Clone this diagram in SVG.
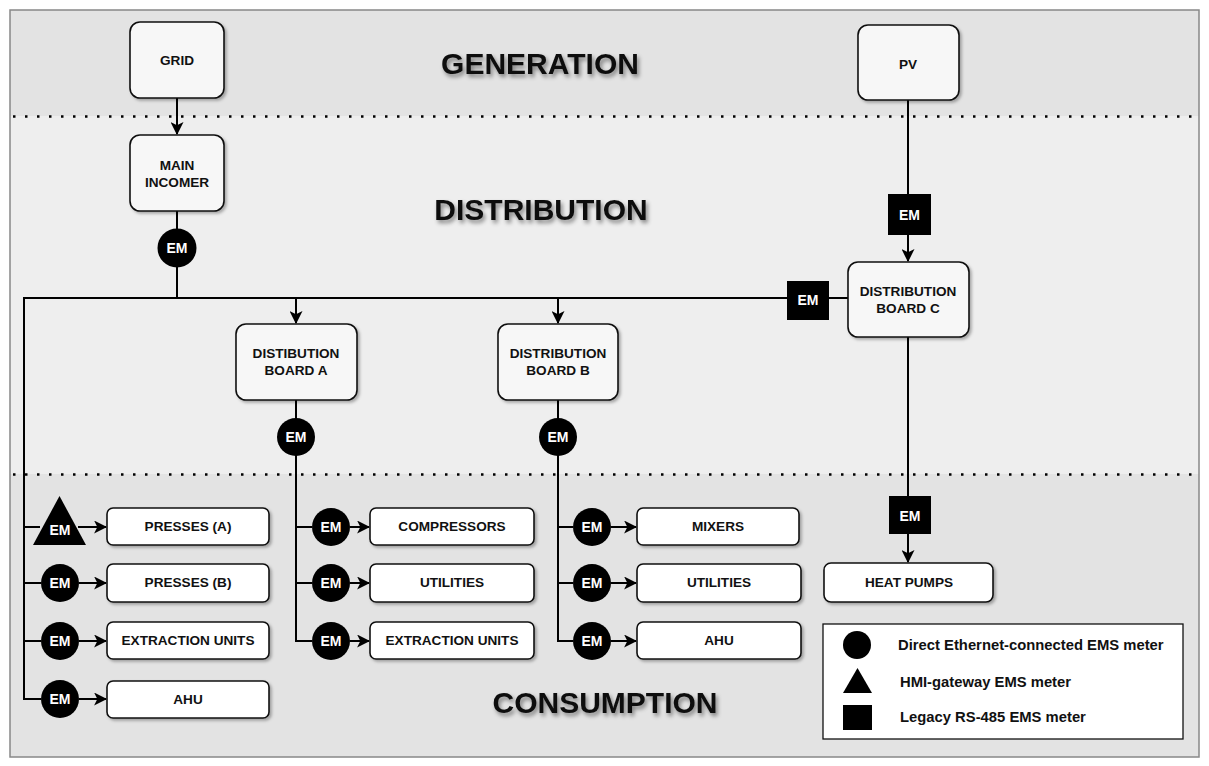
<svg xmlns="http://www.w3.org/2000/svg" width="1209" height="766" viewBox="0 0 1209 766">
<defs>
<filter id="sh" x="-10%" y="-10%" width="130%" height="140%"><feDropShadow dx="2" dy="2" stdDeviation="1.5" flood-color="#000" flood-opacity="0.3"/></filter>
<filter id="tsh" x="-10%" y="-30%" width="130%" height="180%"><feDropShadow dx="2" dy="3" stdDeviation="2" flood-color="#000" flood-opacity="0.45"/></filter>
<marker id="ah" viewBox="0 0 12 12" refX="11" refY="6" markerWidth="13" markerHeight="13" markerUnits="userSpaceOnUse" orient="auto"><path d="M0,0 L12,6 L0,12 L3,6 z" fill="#000"/></marker>
</defs>
<style>
.band1{fill:#e3e3e3}
.band2{fill:#eeeeee}
.dot{stroke:#000;stroke-width:2.5;stroke-dasharray:2.5 9.5;fill:none}
.ln{stroke:#000;stroke-width:2;fill:none}
.big{fill:#f7f7f7;stroke:#111;stroke-width:1.6;filter:url(#sh)}
.box{fill:#fff;stroke:#111;stroke-width:1.6;filter:url(#sh)}
.t{font-family:"Liberation Sans",Arial,sans-serif;font-weight:bold;font-size:13.6px;fill:#111;text-anchor:middle}
.em{font-family:"Liberation Sans",Arial,sans-serif;font-weight:bold;font-size:14px;fill:#fff;text-anchor:middle}
.title{font-family:"Liberation Sans",Arial,sans-serif;font-weight:bold;font-size:30px;fill:#111;text-anchor:middle;filter:url(#tsh)}
.leg{font-family:"Liberation Sans",Arial,sans-serif;font-weight:bold;font-size:14.8px;fill:#111}
</style>
<rect x="0" y="0" width="1209" height="766" fill="#fff"/>
<g id="background">
<rect class="band1" x="10" y="10" width="1189" height="106"/>
<rect class="band2" x="10" y="116" width="1189" height="358"/>
<rect class="band1" x="10" y="474" width="1189" height="283"/>
<rect x="10" y="10" width="1189" height="747" fill="none" stroke="#888" stroke-width="1.5"/>
<line class="dot" x1="13" y1="116.5" x2="1199" y2="116.5"/>
<line class="dot" x1="13" y1="474.5" x2="1199" y2="474.5"/>
<text class="title" x="540" y="74">GENERATION</text>
<text class="title" x="541" y="220">DISTRIBUTION</text>
<text class="title" x="605" y="713">CONSUMPTION</text>
</g>
<g id="connectors">
<line class="ln" x1="177" y1="98" x2="177" y2="134" marker-end="url(#ah)"/>
<line class="ln" x1="177" y1="211" x2="177" y2="298"/>
<polyline class="ln" points="848,298 24,298 24,699 41,699"/>
<line class="ln" x1="296" y1="298" x2="296" y2="323" marker-end="url(#ah)"/>
<line class="ln" x1="558" y1="298" x2="558" y2="323" marker-end="url(#ah)"/>
<line class="ln" x1="908" y1="100" x2="908" y2="194"/>
<line class="ln" x1="908" y1="235" x2="908" y2="261" marker-end="url(#ah)"/>
<line class="ln" x1="908" y1="337" x2="908" y2="496"/>
<line class="ln" x1="908" y1="534" x2="908" y2="562" marker-end="url(#ah)"/>
<line class="ln" x1="24" y1="527" x2="40" y2="527"/>
<line class="ln" x1="24" y1="583" x2="41" y2="583"/>
<line class="ln" x1="24" y1="641" x2="41" y2="641"/>
<line class="ln" x1="78" y1="527" x2="106" y2="527" marker-end="url(#ah)"/>
<line class="ln" x1="79" y1="583" x2="106" y2="583" marker-end="url(#ah)"/>
<line class="ln" x1="79" y1="641" x2="106" y2="641" marker-end="url(#ah)"/>
<line class="ln" x1="79" y1="699" x2="106" y2="699" marker-end="url(#ah)"/>
<polyline class="ln" points="296,400 296,641 312,641"/>
<line class="ln" x1="296" y1="527" x2="312" y2="527"/>
<line class="ln" x1="296" y1="583" x2="312" y2="583"/>
<line class="ln" x1="350" y1="527" x2="369" y2="527" marker-end="url(#ah)"/>
<line class="ln" x1="350" y1="583" x2="369" y2="583" marker-end="url(#ah)"/>
<line class="ln" x1="350" y1="641" x2="369" y2="641" marker-end="url(#ah)"/>
<polyline class="ln" points="558,400 558,641 573,641"/>
<line class="ln" x1="558" y1="527" x2="573" y2="527"/>
<line class="ln" x1="558" y1="583" x2="573" y2="583"/>
<line class="ln" x1="611" y1="527" x2="636" y2="527" marker-end="url(#ah)"/>
<line class="ln" x1="611" y1="583" x2="636" y2="583" marker-end="url(#ah)"/>
<line class="ln" x1="611" y1="641" x2="636" y2="641" marker-end="url(#ah)"/>
</g>
<g id="grid"><rect class="big" x="130" y="22" width="94" height="76" rx="10"/><text class="t" x="177" y="65">GRID</text></g>
<g id="pv"><rect class="big" x="858" y="25" width="101" height="75" rx="10"/><text class="t" x="908" y="69">PV</text></g>
<g id="main-incomer"><rect class="big" x="130" y="135" width="94" height="76" rx="10"/><text class="t" x="177" y="170">MAIN</text><text class="t" x="177" y="187">INCOMER</text></g>
<g id="em-main"><circle cx="177" cy="248" r="19.5" fill="#000"/><text class="em" x="177" y="253">EM</text></g>
<g id="em-bus-c"><rect x="787" y="281" width="42" height="39" fill="#000"/><text class="em" x="808" y="305">EM</text></g>
<g id="em-pv"><rect x="888" y="194" width="43" height="41" fill="#000"/><text class="em" x="909.5" y="220">EM</text></g>
<g id="board-c"><rect class="big" x="848" y="262" width="121" height="75" rx="10"/><text class="t" x="908" y="296">DISTRIBUTION</text><text class="t" x="908" y="313">BOARD C</text></g>
<g id="board-a"><rect class="big" x="236" y="324" width="121" height="76" rx="10"/><text class="t" x="296" y="358">DISTIBUTION</text><text class="t" x="296" y="375">BOARD A</text></g>
<g id="board-b"><rect class="big" x="498" y="324" width="120" height="76" rx="10"/><text class="t" x="558" y="358">DISTRIBUTION</text><text class="t" x="558" y="375">BOARD B</text></g>
<g id="em-a"><circle cx="296" cy="437" r="19" fill="#000"/><text class="em" x="296" y="442">EM</text></g>
<g id="em-b"><circle cx="558" cy="437" r="19" fill="#000"/><text class="em" x="558" y="442">EM</text></g>
<g id="em-hp"><rect x="889" y="496" width="42" height="38" fill="#000"/><text class="em" x="910" y="521">EM</text></g>
<g id="heat-pumps"><rect class="box" x="824" y="563" width="169" height="39" rx="7"/><text class="t" x="909" y="587">HEAT PUMPS</text></g>
<g id="em-l1"><polygon points="33,545 86,545 59.5,496" fill="#000"/><text class="em" x="60" y="535">EM</text></g>
<g id="em-l2"><circle cx="60" cy="583" r="19" fill="#000"/><text class="em" x="60" y="588">EM</text></g>
<g id="em-l3"><circle cx="60" cy="641" r="19" fill="#000"/><text class="em" x="60" y="646">EM</text></g>
<g id="em-l4"><circle cx="60" cy="699" r="19" fill="#000"/><text class="em" x="60" y="704">EM</text></g>
<g id="presses-a"><rect class="box" x="107" y="508" width="162" height="37" rx="6"/><text class="t" x="188" y="531">PRESSES (A)</text></g>
<g id="presses-b"><rect class="box" x="107" y="564" width="162" height="38" rx="6"/><text class="t" x="188" y="587">PRESSES (B)</text></g>
<g id="extraction-l"><rect class="box" x="107" y="622" width="162" height="37" rx="6"/><text class="t" x="188" y="645">EXTRACTION UNITS</text></g>
<g id="ahu-l"><rect class="box" x="107" y="681" width="162" height="37" rx="6"/><text class="t" x="188" y="704">AHU</text></g>
<g id="em-a1"><circle cx="331" cy="527" r="19" fill="#000"/><text class="em" x="331" y="532">EM</text></g>
<g id="em-a2"><circle cx="331" cy="583" r="19" fill="#000"/><text class="em" x="331" y="588">EM</text></g>
<g id="em-a3"><circle cx="331" cy="641" r="19" fill="#000"/><text class="em" x="331" y="646">EM</text></g>
<g id="compressors"><rect class="box" x="370" y="508" width="164" height="37" rx="6"/><text class="t" x="452" y="531">COMPRESSORS</text></g>
<g id="utilities-a"><rect class="box" x="370" y="564" width="164" height="38" rx="6"/><text class="t" x="452" y="587">UTILITIES</text></g>
<g id="extraction-a"><rect class="box" x="370" y="622" width="164" height="37" rx="6"/><text class="t" x="452" y="645">EXTRACTION UNITS</text></g>
<g id="em-b1"><circle cx="592" cy="527" r="19" fill="#000"/><text class="em" x="592" y="532">EM</text></g>
<g id="em-b2"><circle cx="592" cy="583" r="19" fill="#000"/><text class="em" x="592" y="588">EM</text></g>
<g id="em-b3"><circle cx="592" cy="641" r="19" fill="#000"/><text class="em" x="592" y="646">EM</text></g>
<g id="mixers"><rect class="box" x="637" y="508" width="162" height="37" rx="6"/><text class="t" x="718" y="531">MIXERS</text></g>
<g id="utilities-b"><rect class="box" x="637" y="564" width="164" height="38" rx="6"/><text class="t" x="719" y="587">UTILITIES</text></g>
<g id="ahu-b"><rect class="box" x="637" y="622" width="164" height="37" rx="6"/><text class="t" x="719" y="645">AHU</text></g>
<g id="legend">
<rect x="823" y="624" width="360" height="115" fill="#fff" stroke="#111" stroke-width="1.3"/>
<circle cx="857" cy="645" r="14" fill="#000"/>
<polygon points="843,693 872,693 857.5,668" fill="#000"/>
<rect x="843" y="705" width="29" height="25" fill="#000"/>
<text class="leg" x="898" y="650">Direct Ethernet-connected EMS meter</text>
<text class="leg" x="900" y="687">HMI-gateway EMS meter</text>
<text class="leg" x="900" y="722">Legacy RS-485 EMS meter</text>
</g>
</svg>
